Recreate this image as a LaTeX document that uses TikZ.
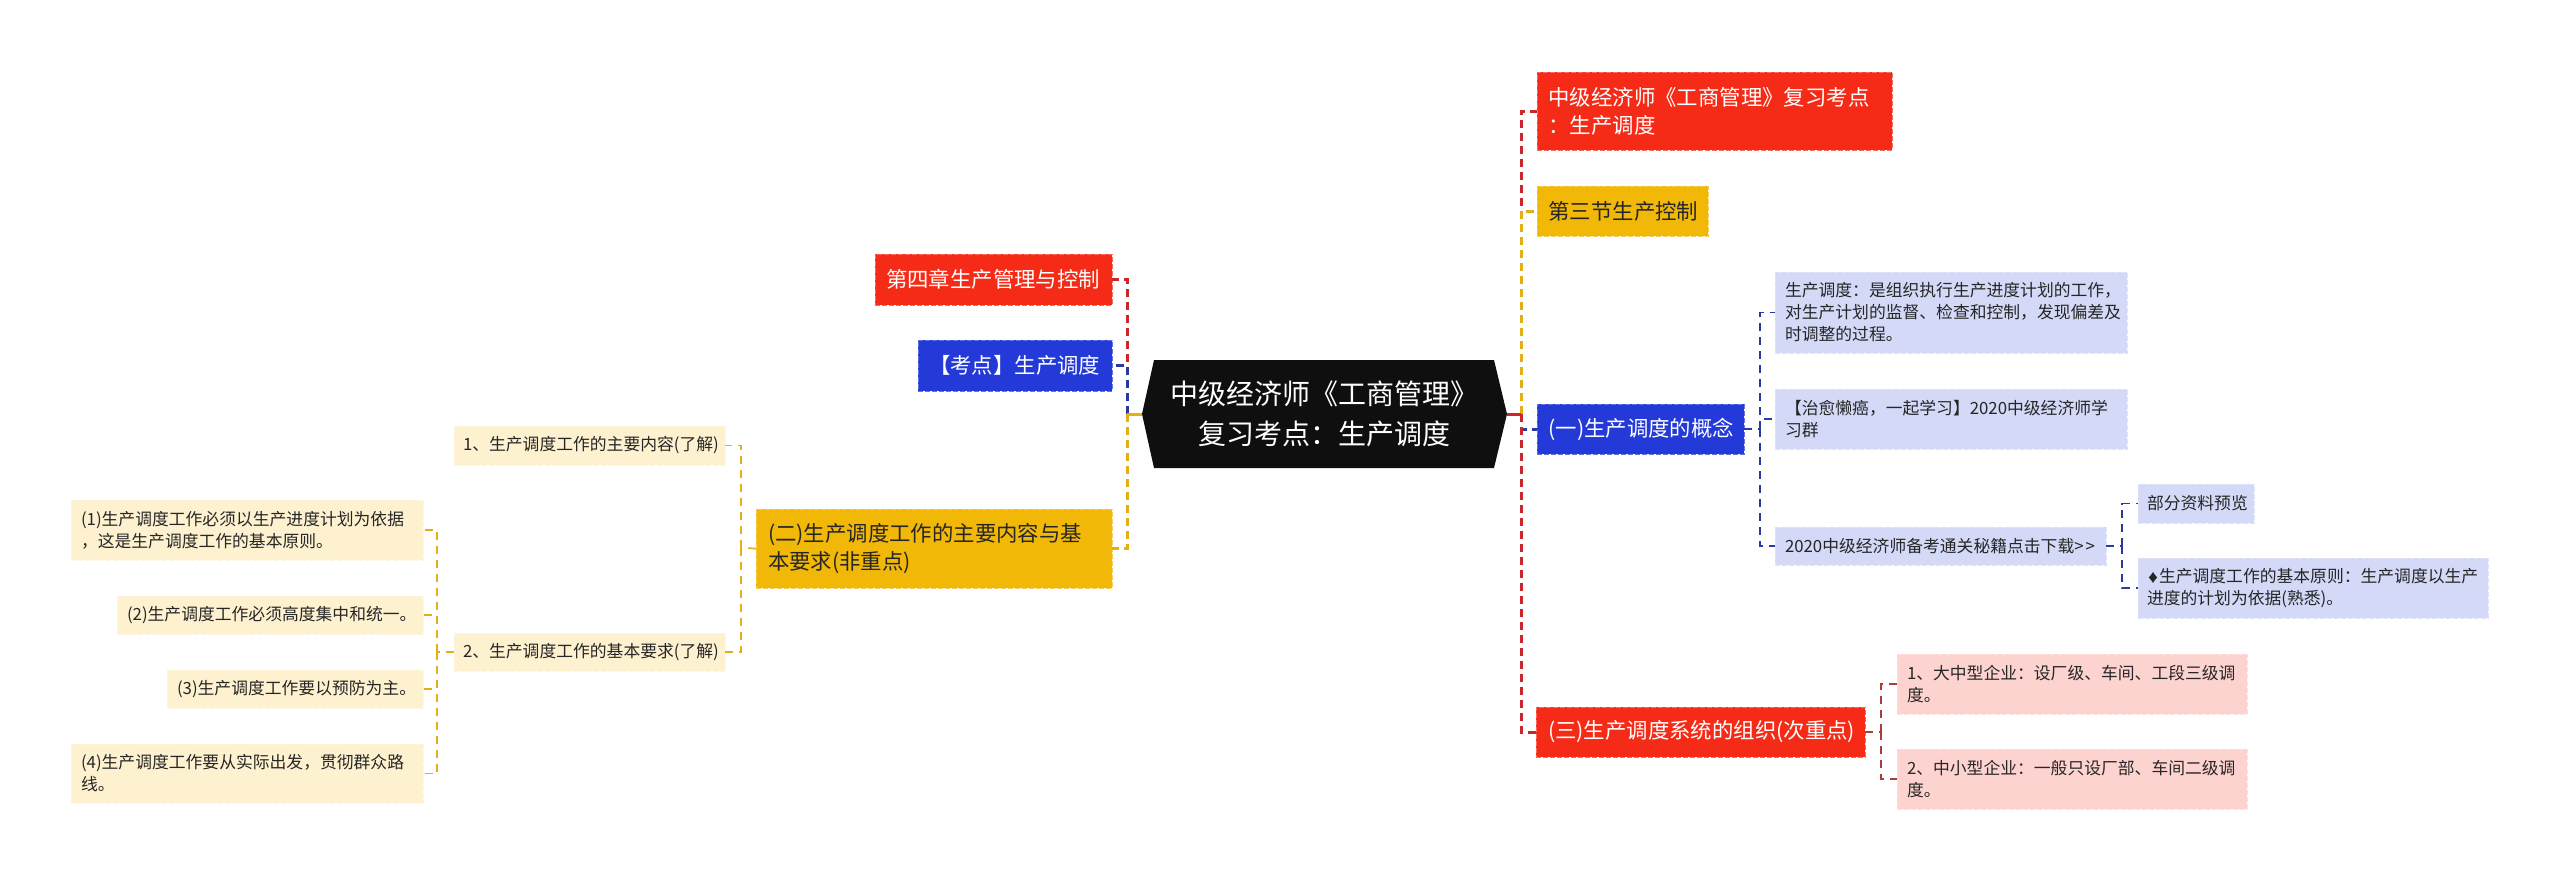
\documentclass[tikz,border=0pt]{standalone}
\usepackage{fontspec}
\setmainfont{Noto Sans CJK SC}
\definecolor{cred}{HTML}{F52B17}
\definecolor{cyel}{HTML}{F2B807}
\definecolor{cblu}{HTML}{2339D8}
\definecolor{lblu}{HTML}{D3D9F7}
\definecolor{lred}{HTML}{FDD3D0}
\definecolor{lyel}{HTML}{FEF1CF}
\definecolor{lnred}{HTML}{C9272B}
\definecolor{lnblu}{HTML}{2A3A9E}
\definecolor{lnyel}{HTML}{E3AE16}
\definecolor{lnbr}{HTML}{A8403A}
\tikzset{
 x=1pt,y=-1pt,
 bx/.style={rectangle,inner sep=0pt,outer sep=0pt,anchor=center,align=left,dash pattern=on 5pt off 2pt,line width=1pt},
 lv2/.style={bx,font=\fontsize{21.4}{28}\selectfont},
 lv3/.style={bx,font=\fontsize{16.8}{22}\selectfont,text=black!85},
 redb/.style={lv2,fill=cred,draw=cred!70!white,text=white},
 blub/.style={lv2,fill=cblu,draw=cblu!70!white,text=white},
 yelb/.style={lv2,fill=cyel,draw=cyel!70!white,text=black!85},
 lb/.style={lv3,fill=lblu,draw=lblu!70!white},
 lr/.style={lv3,fill=lred,draw=lred!70!white},
 ly/.style={lv3,fill=lyel,draw=lyel!70!white},
 stub/.style={line width=3pt},
 conn/.style={line width=3pt,dash pattern=on 8pt off 5pt},
 conns/.style={line width=1.7pt,dash pattern=on 8pt off 6pt},
}
% name, x0, y0, x1, y1, style, padding, text
\newcommand{\bnode}[8]{%
 \pgfmathsetmacro{\bw}{#4-#2}\pgfmathsetmacro{\bh}{#5-#3}%
 \pgfmathsetmacro{\tw}{#4-#2-2*#7}%
 \node[#6,minimum width=\bw pt,minimum height=\bh pt,text width=\tw pt] (#1) at ({(#2+#4)/2},{(#3+#5)/2}) {#8};}
\begin{document}
\begin{tikzpicture}
\useasboundingbox (0,0) rectangle (2560,881);
\coordinate (tr) at (1521,414);
\coordinate (tl) at (1127,414);
\coordinate (tc) at (1760,429);
\coordinate (tc3) at (2122,546);
\coordinate (td) at (1881,732);
\coordinate (tl3) at (741,548);
\coordinate (tl32) at (437,652);
% root
\fill[black!94] (1142,414) -- (1154,360) -- (1494,360) -- (1507,414) -- (1494,468) -- (1154,468) -- cycle;
\node[rectangle,inner sep=0pt,outer sep=0pt,minimum width=365pt,minimum height=108pt,text=white,align=center,font=\fontsize{28}{40}\selectfont] (root) at (1324.5,414) {中级经济师《工商管理》\\复习考点：生产调度};
% right
\bnode{a}{1537}{72}{1892}{150}{redb}{11.5}{中级经济师《工商管理》复习考点\\：生产调度}
\bnode{b}{1537}{186}{1708}{236}{yelb}{11.5}{第三节生产控制}
\bnode{c}{1537}{404}{1744}{454}{blub}{11.5}{(一)生产调度的概念}
\bnode{d}{1536}{707}{1865}{757}{redb}{12}{(三)生产调度系统的组织(次重点)}
\bnode{ca}{1775}{272}{2127}{353}{lb}{10}{生产调度：是组织执行生产进度计划的工作，\\对生产计划的监督、检查和控制，发现偏差及\\时调整的过程。}
\bnode{cb}{1775}{389}{2127}{449}{lb}{10}{【治愈懒癌，一起学习】2020中级经济师学\\习群}
\bnode{cc}{1775}{527}{2106}{565}{lb}{10}{2020中级经济师备考通关秘籍点击下载>\kern2pt>}
\bnode{cca}{2138}{484}{2254}{523}{lb}{9}{部分资料预览}
\bnode{ccb}{2138}{558}{2488}{618}{lb}{9}{{\fontsize{12}{22}\selectfont ♦}生产调度工作的基本原则：生产调度以生产\\进度的计划为依据(熟悉)。}
\bnode{da}{1897}{654}{2247}{714}{lr}{10}{1、大中型企业：设厂级、车间、工段三级调\\度。}
\bnode{db}{1897}{749}{2247}{809}{lr}{10}{2、中小型企业：一般只设厂部、车间二级调\\度。}
% left
\bnode{la}{875}{254}{1112}{305}{redb}{11}{第四章生产管理与控制}
\bnode{lb2}{918}{340}{1112}{391}{blub}{11}{【考点】生产调度}
\bnode{lc}{756}{509}{1112}{588}{yelb}{12}{(二)生产调度工作的主要内容与基\\本要求(非重点)}
\bnode{lca}{454}{426}{725}{465}{ly}{9}{1、生产调度工作的主要内容(了解)}
\bnode{lcb}{454}{633}{725}{671}{ly}{9}{2、生产调度工作的基本要求(了解)}
\bnode{r1}{71}{500}{423}{560}{ly}{10}{(1)生产调度工作必须以生产进度计划为依据\\，这是生产调度工作的基本原则。}
\bnode{r2}{117}{596}{423}{634}{ly}{10}{(2)生产调度工作必须高度集中和统一。}
\bnode{r3}{167}{670}{423}{708}{ly}{10}{(3)生产调度工作要以预防为主。}
\bnode{r4}{71}{744}{423}{803}{ly}{10}{(4)生产调度工作要从实际出发，贯彻群众路\\线。}
% connectors, right trunk
\draw[conn,lnred] (tr) |- (a.west);
\draw[conn,lnyel] (tr) |- (b.west);
\draw[conn,lnblu] (tr) |- (c.west);
\draw[conn,lnred] (tr) |- (d.west);
\draw[stub,lnred] (root.east) -- (tr);
% left trunk
\draw[conn,lnred] (tl) |- (la.east);
\draw[conn,lnblu] (tl) |- (lb2.east);
\draw[conn,lnyel] (tl) |- (lc.east);
\draw[stub,lnyel] (root.west) -- (tl);
% concept branch
\draw[conns,lnblu] (c.east) -- (tc);
\draw[conns,lnblu] (tc) |- (ca.west);
\draw[conns,lnblu] (tc) |- (cb.west);
\draw[conns,lnblu] (tc) |- (cc.west);
\draw[conns,lnblu] (cc.east) -- (tc3);
\draw[conns,lnblu] (tc3) |- (cca.west);
\draw[conns,lnblu] (tc3) |- (ccb.west);
% org branch
\draw[conns,lnbr] (d.east) -- (td);
\draw[conns,lnbr] (td) |- (da.west);
\draw[conns,lnbr] (td) |- (db.west);
% left branch
\draw[conns,lnyel] (lc.west) -- (tl3);
\draw[conns,lnyel] (tl3) |- (lca.east);
\draw[conns,lnyel] (tl3) |- (lcb.east);
\draw[conns,lnyel] (lcb.west) -- (tl32);
\draw[conns,lnyel] (tl32) |- (r1.east);
\draw[conns,lnyel] (tl32) |- (r2.east);
\draw[conns,lnyel] (tl32) |- (r3.east);
\draw[conns,lnyel] (tl32) |- (r4.east);
\end{tikzpicture}
\end{document}
